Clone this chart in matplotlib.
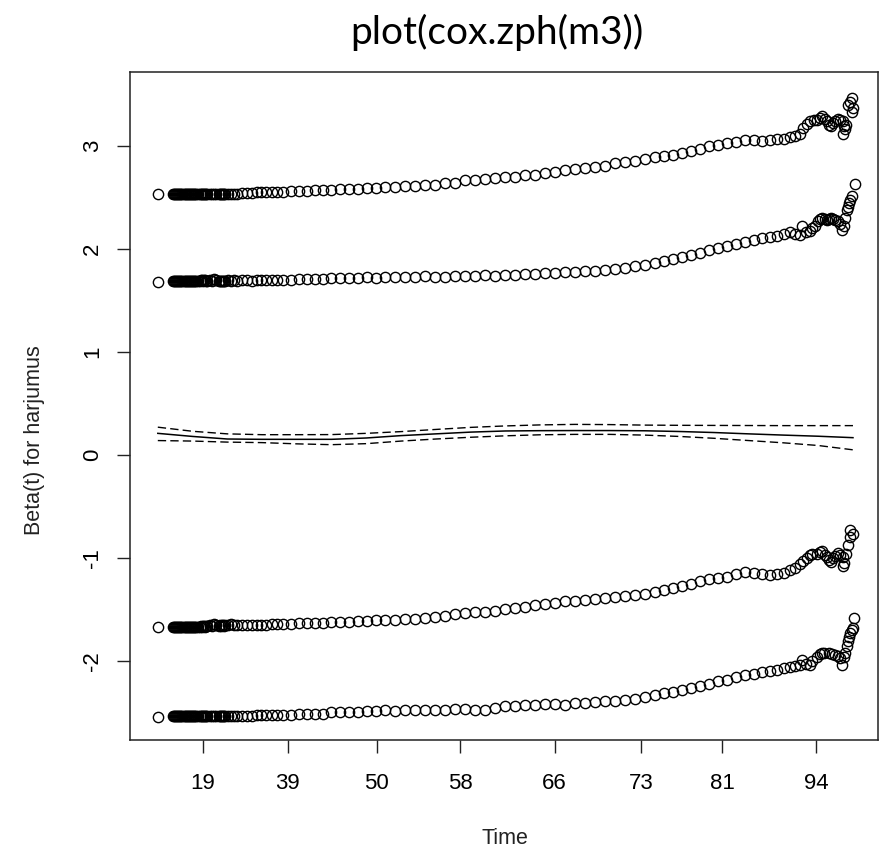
import matplotlib
matplotlib.use("Agg")
import matplotlib.pyplot as plt

# transformed (KM-scale) event times, shared by the four residual bands
time_start = [0.0]
time_dense = [2.2, 2.35, 2.5, 2.65, 2.8, 2.95, 3.1, 3.25, 3.4, 3.55, 3.7, 3.85, 4.0, 4.15,
              4.3, 4.45, 4.6, 4.75, 4.9, 5.05, 5.2, 5.35, 5.5, 5.8,
              6.0, 6.15, 6.3, 6.45, 6.6, 6.75, 6.9, 7.05,
              7.5, 7.8, 8.1, 8.4,
              8.8, 8.95, 9.1, 9.25, 9.4, 9.55, 9.7,
              10.1, 10.5, 10.9]
time_body = [11.4, 12.1, 12.8, 13.5, 14.2, 14.8, 15.5, 16.4, 17.1,
             18.0, 19.1, 20.3, 21.4, 22.6, 23.7, 24.9, 26.2, 27.5, 28.8, 30.1, 31.4,
             32.7, 34.1, 35.5, 37.0, 38.4, 39.9, 41.3, 42.7, 44.2, 45.6, 47.1, 48.5,
             49.9, 51.4, 52.8, 54.2, 55.7, 57.1, 58.6, 60.0, 61.4, 62.9, 64.3, 65.8,
             67.2, 68.6, 70.1, 71.5, 72.8, 74.1, 75.4, 76.7, 78.0, 79.3, 80.6, 81.9,
             83.2, 84.5, 85.8, 86.9, 88.1, 89.1, 90.1, 90.9, 91.7]

# band 1 (top)
beta1_start = [2.53]
beta1_dense = [2.53, 2.53, 2.53, 2.53, 2.53, 2.53, 2.53, 2.53, 2.53, 2.53, 2.53, 2.53,
               2.53, 2.53, 2.53, 2.53, 2.53, 2.53, 2.53, 2.53, 2.53, 2.53, 2.53, 2.53,
               2.53, 2.53, 2.53, 2.53, 2.53, 2.53, 2.53, 2.53,
               2.53, 2.53, 2.53, 2.53,
               2.53, 2.53, 2.53, 2.53, 2.53, 2.53, 2.53,
               2.53, 2.53, 2.53]
beta1_body = [2.53, 2.54, 2.54, 2.54, 2.55, 2.55, 2.55, 2.55, 2.55,
              2.55, 2.56, 2.56, 2.56, 2.57, 2.57, 2.57, 2.58, 2.58, 2.58, 2.59, 2.59,
              2.60, 2.60, 2.61, 2.61, 2.62, 2.62, 2.64, 2.64, 2.67, 2.67, 2.68, 2.69,
              2.70, 2.70, 2.72, 2.72, 2.74, 2.75, 2.77, 2.78, 2.79, 2.80, 2.81, 2.83,
              2.84, 2.85, 2.87, 2.89, 2.90, 2.91, 2.93, 2.95, 2.97, 3.00, 3.01, 3.03,
              3.04, 3.06, 3.06, 3.05, 3.06, 3.07, 3.07, 3.09, 3.10]
time1_tail = [92.4, 92.8, 93.4, 93.8, 94.4, 94.8, 95.3, 95.5, 96.0, 96.3, 96.5, 96.8, 97.1,
              97.4, 97.8, 98.1, 98.5, 98.7, 98.8, 98.5, 99.0, 99.3, 99.6, 99.9, 99.9, 100.0]
beta1_tail = [3.12, 3.17, 3.21, 3.24, 3.25, 3.25, 3.27, 3.29, 3.26, 3.24, 3.20, 3.19, 3.22,
              3.24, 3.26, 3.25, 3.24, 3.19, 3.16, 3.12, 3.20, 3.40, 3.43, 3.47, 3.33, 3.37]

# band 2
beta2_start = [1.68]
beta2_dense = [1.69, 1.69, 1.69, 1.69, 1.69, 1.69, 1.69, 1.69, 1.69, 1.69, 1.69, 1.69,
               1.69, 1.69, 1.69, 1.69, 1.69, 1.69, 1.69, 1.69, 1.69, 1.69, 1.69, 1.69,
               1.69, 1.70, 1.70, 1.69, 1.70, 1.70, 1.69, 1.69,
               1.70, 1.69, 1.71, 1.70,
               1.69, 1.69, 1.69, 1.69, 1.69, 1.69, 1.69,
               1.70, 1.69, 1.70]
beta2_body = [1.69, 1.70, 1.70, 1.69, 1.70, 1.70, 1.70, 1.70, 1.70,
              1.70, 1.70, 1.71, 1.71, 1.71, 1.71, 1.72, 1.72, 1.72, 1.72, 1.73, 1.72,
              1.73, 1.73, 1.73, 1.73, 1.74, 1.73, 1.73, 1.74, 1.74, 1.74, 1.75, 1.74,
              1.75, 1.75, 1.76, 1.76, 1.77, 1.77, 1.78, 1.78, 1.79, 1.79, 1.80, 1.81,
              1.82, 1.83, 1.84, 1.86, 1.88, 1.90, 1.92, 1.94, 1.96, 1.99, 2.01, 2.03,
              2.05, 2.07, 2.09, 2.11, 2.12, 2.13, 2.15, 2.16, 2.15]
time2_tail = [92.4, 92.6, 93.2, 93.8, 94.1, 94.5, 95.0, 95.3, 95.5, 96.0, 96.3, 96.5, 96.8,
              97.1, 97.4, 97.8, 98.1, 98.4, 98.7, 98.8, 99.1, 99.3, 99.4, 99.6, 99.9, 100.3]
beta2_tail = [2.14, 2.22, 2.16, 2.17, 2.20, 2.22, 2.27, 2.29, 2.30, 2.29, 2.28, 2.29, 2.30,
              2.29, 2.28, 2.27, 2.24, 2.18, 2.22, 2.30, 2.38, 2.41, 2.45, 2.48, 2.51, 2.63]

# band 3
beta3_start = [-1.67]
beta3_dense = [-1.67, -1.67, -1.67, -1.67, -1.67, -1.67, -1.67, -1.67, -1.67, -1.67,
               -1.67, -1.67, -1.67, -1.67, -1.67, -1.67, -1.67, -1.67, -1.67, -1.67,
               -1.67, -1.67, -1.67, -1.67,
               -1.67, -1.66, -1.67, -1.66, -1.66, -1.67, -1.66, -1.66,
               -1.65, -1.66, -1.64, -1.65,
               -1.66, -1.65, -1.66, -1.65, -1.65, -1.66, -1.65,
               -1.65, -1.64, -1.65]
beta3_body = [-1.65, -1.65, -1.65, -1.65, -1.65, -1.65, -1.65, -1.64, -1.64,
              -1.64, -1.64, -1.63, -1.63, -1.63, -1.63, -1.62, -1.62, -1.62, -1.61, -1.61, -1.60,
              -1.60, -1.60, -1.59, -1.59, -1.58, -1.57, -1.56, -1.54, -1.53, -1.52, -1.52, -1.51,
              -1.50, -1.49, -1.48, -1.46, -1.45, -1.44, -1.42, -1.42, -1.41, -1.40, -1.39, -1.38,
              -1.37, -1.36, -1.35, -1.33, -1.31, -1.29, -1.27, -1.25, -1.22, -1.20, -1.19, -1.18,
              -1.16, -1.14, -1.15, -1.16, -1.17, -1.16, -1.15, -1.12, -1.10]
time3_tail = [92.4, 92.8, 93.4, 93.8, 94.1, 94.8, 95.3, 95.5, 96.0, 96.3, 96.5, 96.8,
              97.1, 97.4, 97.8, 98.1, 98.5, 98.7, 98.5, 99.0, 99.3, 99.6, 99.6, 100.0]
beta3_tail = [-1.06, -1.03, -1.00, -0.97, -0.96, -0.96, -0.94, -0.93, -0.97, -0.99, -1.02, -1.04,
              -1.00, -0.98, -0.95, -0.97, -0.99, -1.05, -1.08, -0.96, -0.87, -0.80, -0.73, -0.77]

# band 4 (bottom)
beta4_start = [-2.54]
beta4_dense = [-2.53, -2.53, -2.53, -2.53, -2.53, -2.53, -2.53, -2.53, -2.53, -2.53,
               -2.53, -2.53, -2.53, -2.53, -2.53, -2.53, -2.53, -2.53, -2.53, -2.53,
               -2.53, -2.53, -2.53, -2.53,
               -2.53, -2.53, -2.53, -2.53, -2.53, -2.53, -2.53, -2.53,
               -2.53, -2.53, -2.53, -2.53,
               -2.53, -2.53, -2.53, -2.53, -2.53, -2.53, -2.53,
               -2.53, -2.53, -2.53]
beta4_body = [-2.53, -2.53, -2.53, -2.53, -2.52, -2.52, -2.52, -2.52, -2.52,
              -2.52, -2.52, -2.51, -2.51, -2.51, -2.51, -2.50, -2.50, -2.50, -2.50, -2.49, -2.49,
              -2.48, -2.49, -2.48, -2.48, -2.48, -2.48, -2.48, -2.47, -2.47, -2.48, -2.48, -2.46,
              -2.44, -2.44, -2.43, -2.43, -2.42, -2.42, -2.43, -2.41, -2.41, -2.40, -2.39, -2.39,
              -2.38, -2.37, -2.35, -2.33, -2.31, -2.30, -2.28, -2.26, -2.24, -2.22, -2.19, -2.18,
              -2.16, -2.14, -2.13, -2.11, -2.10, -2.09, -2.07, -2.06, -2.05]
time4_tail = [92.4, 92.6, 93.2, 93.8, 94.1, 94.8, 95.3, 95.5, 95.8, 96.5, 97.0, 97.4,
              97.8, 98.1, 98.4, 98.7, 98.8, 99.1, 99.3, 99.4, 99.6, 99.9, 100.0, 100.1]
beta4_tail = [-2.04, -1.99, -2.03, -2.04, -2.00, -1.96, -1.93, -1.92, -1.92, -1.92, -1.93, -1.94,
              -1.95, -1.97, -2.04, -1.96, -1.92, -1.85, -1.81, -1.77, -1.73, -1.70, -1.68, -1.58]

# smoothed beta(t) with +/- 2 se band
fit_time = [0, 5, 10, 15, 20, 25, 30, 35, 40, 45, 50, 55, 60, 65, 70, 75, 80, 85, 90, 95, 100]
fit_beta = [0.21, 0.18, 0.155, 0.152, 0.152, 0.152, 0.165, 0.188, 0.205, 0.222, 0.233,
            0.236, 0.237, 0.237, 0.235, 0.228, 0.218, 0.205, 0.193, 0.182, 0.168]
fit_upper = [0.27, 0.23, 0.205, 0.197, 0.197, 0.198, 0.210, 0.227, 0.248, 0.268, 0.282,
             0.292, 0.297, 0.295, 0.290, 0.288, 0.287, 0.286, 0.285, 0.285, 0.285]
fit_lower = [0.14, 0.135, 0.125, 0.12, 0.108, 0.100, 0.110, 0.135, 0.155, 0.172, 0.186,
             0.196, 0.200, 0.200, 0.193, 0.180, 0.162, 0.140, 0.118, 0.092, 0.05]

tick_pos = [6.5, 18.7, 31.5, 43.5, 57.1, 69.5, 81.2, 94.7]
tick_labels = ["19", "39", "50", "58", "66", "73", "81", "94"]

plt.rcParams['font.family'] = ['Liberation Sans', 'DejaVu Sans']

fig = plt.figure(figsize=(8.9, 8.5), dpi=100)
ax = fig.add_axes([130 / 890, 1 - 740 / 850, 748 / 890, 668 / 850])

times = time_start + time_dense + time_body
bands = [
    (beta1_start + beta1_dense + beta1_body, time1_tail, beta1_tail),
    (beta2_start + beta2_dense + beta2_body, time2_tail, beta2_tail),
    (beta3_start + beta3_dense + beta3_body, time3_tail, beta3_tail),
    (beta4_start + beta4_dense + beta4_body, time4_tail, beta4_tail),
]
for body, tail_t, tail_b in bands:
    ax.plot(times + tail_t, body + tail_b, linestyle='none', marker='o', markersize=7.4,
            markerfacecolor='none', markeredgecolor='black', markeredgewidth=1.0)

ax.plot(fit_time, fit_beta, color='black', linewidth=1.1)
ax.plot(fit_time, fit_upper, color='black', linewidth=1.0, linestyle=(0, (6, 3)))
ax.plot(fit_time, fit_lower, color='black', linewidth=1.0, linestyle=(0, (6, 3)))

ax.set_xlim(-4, 103.6)
ax.set_ylim(-2.767, 3.718)
ax.set_xticks(tick_pos)
ax.set_xticklabels(tick_labels)
ax.set_yticks([-2, -1, 0, 1, 2, 3])
ax.set_yticklabels(["-2", "-1", "0", "1", "2", "3"], rotation=90, va='center')
ax.tick_params(direction='out', length=9.5, width=1.0, labelsize=16, color='#222222')
ax.tick_params(axis='x', pad=14)
ax.tick_params(axis='y', pad=10)
for sp in ax.spines.values():
    sp.set_linewidth(1.1)
    sp.set_color('#222222')

fig.text(35 / 890, 1 - 440 / 850, "Beta(t) for harjumus", rotation=90,
         ha='center', va='center', fontsize=15.5, color='#222222')
fig.text(505 / 890, 1 - 838 / 850, "Time", ha='center', va='center',
         fontsize=15.5, color='#222222')
fig.text(497 / 890, 1 - 32 / 850, "plot(cox.zph(m3))", ha='center', va='center',
         fontsize=28, family=['Lato', 'DejaVu Sans'])

fig.savefig("out.png", dpi=100)
